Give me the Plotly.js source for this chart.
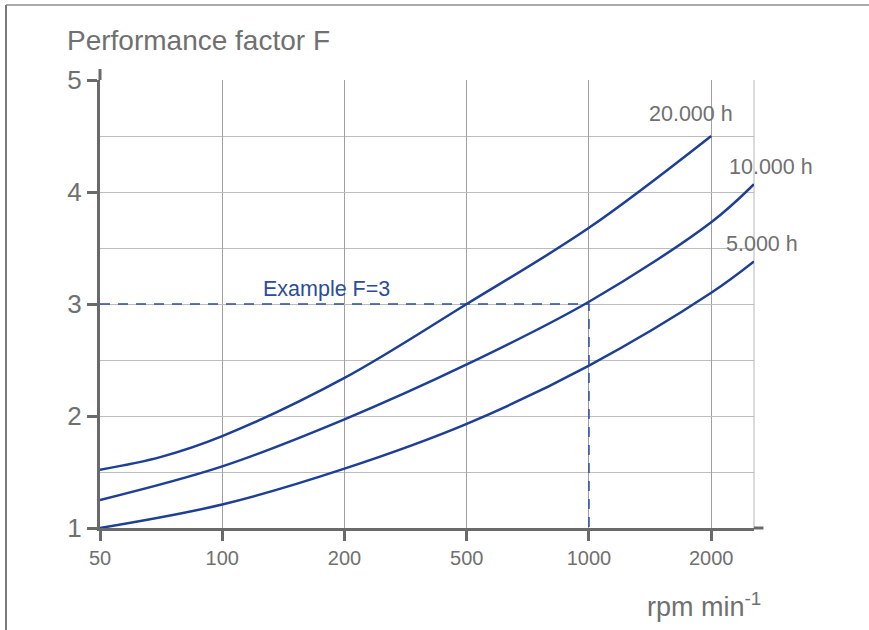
<!DOCTYPE html>
<html>
<head>
<meta charset="utf-8">
<script src="https://cdn.plot.ly/plotly-3.0.1.min.js"></script>
<style>
  html, body { margin: 0; padding: 0; background: #fff; }
  #chart { width: 869px; height: 630px; }
</style>
</head>
<body>
<div id="chart"></div>
<script>
// Tick labels of the (evenly spaced) rpm scale
const rpmTickLabels = ['50', '100', '200', '500', '1000', '2000'];
const rpmTickPos = [0, 1, 2, 3, 4, 5];

// Curve samples: position on the rpm scale and performance factor F
const x20000 = [0, 0.5, 1, 2, 3, 4, 5];
const f20000 = [1.52, 1.635, 1.82, 2.34, 3.0, 3.68, 4.5];

const x10000 = [0, 1, 2, 3, 4, 5, 5.35];
const f10000 = [1.25, 1.55, 1.97, 2.46, 3.02, 3.73, 4.07];

const x5000 = [0, 1, 2, 3, 4, 5, 5.35];
const f5000 = [1.0, 1.21, 1.53, 1.93, 2.45, 3.1, 3.38];

const curveNames = ['20.000 h', '10.000 h', '5.000 h'];

// Example reading: F = 3 at 1000 rpm
const exampleX = [0, 4, 4];
const exampleF = [3, 3, 1];

const blue = '#1d3f94';
const gray = '#707070';
const axisGray = '#6a6a6a';

const curveStyle = { color: blue, width: 2.5, shape: 'spline', smoothing: 1 };

const traces = [
  { x: exampleX, y: exampleF, mode: 'lines', line: { color: '#2b4c9e', width: 1.5, dash: '10px,8px' }, hoverinfo: 'skip' },
  { x: x20000, y: f20000, mode: 'lines', name: curveNames[0], line: curveStyle },
  { x: x10000, y: f10000, mode: 'lines', name: curveNames[1], line: curveStyle },
  { x: x5000, y: f5000, mode: 'lines', name: curveNames[2], line: curveStyle }
];

const labelFont = { family: 'Liberation Sans, Arial, sans-serif', size: 21.5, color: gray };

const layout = {
  width: 869, height: 630,
  margin: { l: 100, r: 115, t: 80, b: 102 },
  paper_bgcolor: '#fff', plot_bgcolor: '#fff',
  showlegend: false,
  font: { family: 'Liberation Sans, Arial, sans-serif', color: gray },
  xaxis: {
    range: [0, 5.35], tickmode: 'array', tickvals: rpmTickPos, ticktext: rpmTickLabels,
    showgrid: true, gridcolor: '#a0a0a0', gridwidth: 1,
    showline: true, linecolor: axisGray, linewidth: 3,
    ticks: 'outside', ticklen: 10, tickwidth: 3, tickcolor: axisGray,
    tickfont: { size: 20, color: gray }, zeroline: false, fixedrange: true
  },
  yaxis: {
    range: [1, 5], tickmode: 'linear', tick0: 1, dtick: 1,
    showgrid: true, gridcolor: '#bdbdbd', gridwidth: 1,
    minor: { dtick: 0.5, showgrid: true, gridcolor: '#bdbdbd', gridwidth: 1, ticks: '' },
    showline: true, linecolor: axisGray, linewidth: 3,
    ticks: 'outside', ticklen: 10, tickwidth: 3, tickcolor: axisGray,
    tickfont: { size: 26, color: gray }, zeroline: false, fixedrange: true
  },
  shapes: [
    // right edge grid line
    { type: 'line', xref: 'paper', yref: 'paper', x0: 1, x1: 1, y0: 0, y1: 1, line: { color: '#b5b5b5', width: 1 }, layer: 'below' },
    // axis line extensions
    { type: 'line', xref: 'paper', yref: 'paper', x0: 1, x1: 1.0145, y0: 0, y1: 0, line: { color: axisGray, width: 3 } },
    { type: 'line', xref: 'paper', yref: 'paper', x0: 0, x1: 0, y0: 1, y1: 1.0246, line: { color: axisGray, width: 3 } },
    // image frame
    { type: 'line', xref: 'paper', yref: 'paper', x0: (6 - 100) / 654, x1: (869 - 100) / 654, y0: (528 - 5) / 448, y1: (528 - 5) / 448, line: { color: '#aaaaaa', width: 2 } },
    { type: 'line', xref: 'paper', yref: 'paper', x0: (6 - 100) / 654, x1: (6 - 100) / 654, y0: (528 - 5) / 448, y1: (528 - 632) / 448, line: { color: '#7a7a7a', width: 2 } }
  ],
  annotations: [
    { text: 'Performance factor F', xref: 'paper', yref: 'paper', x: -0.054, y: 1.089, xanchor: 'left', yanchor: 'middle', showarrow: false, font: { size: 28, color: gray } },
    { text: 'rpm min<sup>-1</sup>', xref: 'paper', yref: 'paper', x: 1.0145, y: -0.172, xanchor: 'right', yanchor: 'middle', showarrow: false, font: { size: 27, color: gray } },
    { text: curveNames[0], x: x20000[x20000.length - 1], y: f20000[f20000.length - 1], xanchor: 'right', yanchor: 'middle', xshift: 24, yshift: 22, showarrow: false, font: labelFont },
    { text: curveNames[1], x: x10000[x10000.length - 1], y: f10000[f10000.length - 1], xanchor: 'right', yanchor: 'middle', xshift: 61, yshift: 17, showarrow: false, font: labelFont },
    { text: curveNames[2], x: x5000[x5000.length - 1], y: f5000[f5000.length - 1], xanchor: 'right', yanchor: 'middle', xshift: 46, yshift: 17, showarrow: false, font: labelFont },
    { text: 'Example F=3', x: 1.85, y: exampleF[0], xanchor: 'center', yanchor: 'middle', yshift: 15, showarrow: false, font: { size: 21.5, color: '#2b4c9e' } }
  ]
};

Plotly.newPlot('chart', traces, layout, { displayModeBar: false, staticPlot: true });
</script>
</body>
</html>
